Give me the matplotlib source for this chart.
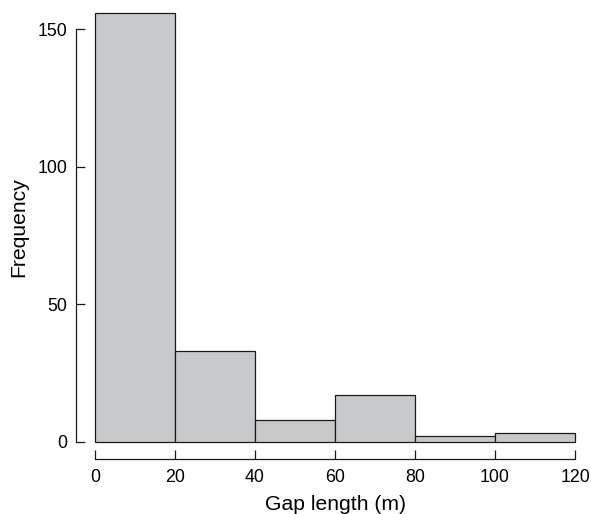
"""Histogram of gap lengths."""

import matplotlib
matplotlib.use('Agg')
import matplotlib.pyplot as plt
import numpy as np

BIN_EDGES = [0, 20, 40, 60, 80, 100, 120]
COUNTS = [156, 33, 8, 17, 2, 3]
X_TICKS = [0, 20, 40, 60, 80, 100, 120]
Y_TICKS = [0, 50, 100, 150]

X_LABEL = 'Gap length (m)'
Y_LABEL = 'Frequency'

BAR_COLOR = '#c8c9cb'
TICK_SIZE = 12.8
LABEL_SIZE = 15.2


def main():
    """."""
    plt.rcParams['font.family'] = ['Liberation Sans', 'DejaVu Sans']

    fig = plt.figure(figsize=(5.91, 5.14), dpi=100)
    ax = fig.add_axes([0.1283, 0.1074, 0.8772, 0.9016])

    edges = np.array(BIN_EDGES)
    ax.hist(edges[:-1], bins=edges, weights=COUNTS, color=BAR_COLOR,
            edgecolor='#1a1a1a', linewidth=0.9)

    # R-style axes: 4% padding, detached spines, inward ticks
    ax.set_xlim(-4.8, 124.8)
    ax.set_ylim(-6.24, 162.24)
    for side in ('top', 'right'):
        ax.spines[side].set_visible(False)
    ax.spines['left'].set_bounds(0, 150)
    ax.spines['bottom'].set_bounds(0, 120)
    for side in ('left', 'bottom'):
        ax.spines[side].set_linewidth(0.9)
        ax.spines[side].set_color('#1a1a1a')

    ax.set_xticks(X_TICKS)
    ax.set_yticks(Y_TICKS)
    ax.tick_params(direction='in', length=6.5, width=0.9, color='#1a1a1a',
                   labelsize=TICK_SIZE, pad=6)
    ax.tick_params(axis='x', pad=7)

    ax.set_xlabel(X_LABEL, fontsize=LABEL_SIZE, labelpad=7)
    ax.set_ylabel(Y_LABEL, fontsize=LABEL_SIZE, labelpad=7)

    fig.savefig('out.png', dpi=100)
    plt.close(fig)


if __name__ == '__main__':
    main()
